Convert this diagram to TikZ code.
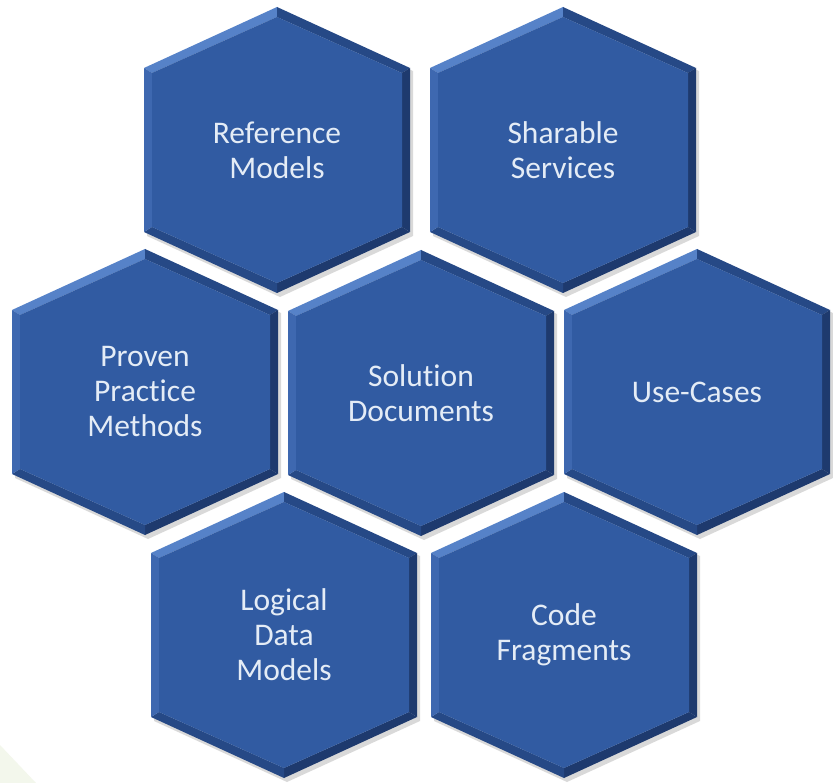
\documentclass[tikz,border=0pt]{standalone}
\usepackage{fontspec}
\setmainfont{Carlito}[Ligatures={NoCommon,NoContextual}, RawFeature={-dlig;-liga;-clig}]

\definecolor{hexbase}{RGB}{49,91,162}
\definecolor{hexlight}{RGB}{86,130,200}
\definecolor{hexmid}{RGB}{62,104,176}
\definecolor{hexdark}{RGB}{38,73,134}
\definecolor{hexdeep}{RGB}{30,58,110}
\definecolor{hextext}{RGB}{228,236,246}
\definecolor{cornergreen}{RGB}{243,247,236}

% one bevelled hexagon: name, x, y, text
\newcommand{\hexcell}[4]{%
  \begin{scope}[shift={(#2,#3)}]
    \fill[black,opacity=.15] (3,-140) -- (136,-79) -- (136,86) -- (3,147) -- (-130,86) -- (-130,-79) -- cycle;
    \fill[hexlight] (-133,-82) -- (0,-143) -- (0,-133) -- (-125,-77) -- cycle;
    \fill[hexdark]  (0,-143) -- (133,-82) -- (125,-77) -- (0,-133) -- cycle;
    \fill[hexdeep]  (133,-82) -- (133,82) -- (125,77) -- (125,-77) -- cycle;
    \fill[hexdeep]  (133,82) -- (0,143) -- (0,133) -- (125,77) -- cycle;
    \fill[hexdark]  (0,143) -- (-133,82) -- (-125,77) -- (0,133) -- cycle;
    \fill[hexmid]   (-133,82) -- (-133,-82) -- (-125,-77) -- (-125,77) -- cycle;
    \fill[hexbase]  (0,-133) -- (125,-77) -- (125,77) -- (0,133) -- (-125,77) -- (-125,-77) -- cycle;
    \node[hexlabel] (#1) at (0,0) {#4};
  \end{scope}
}

\begin{document}
\begin{tikzpicture}[x=1pt, y=-1pt,
  hexlabel/.style={text=hextext, align=center, font=\fontsize{31.5}{35}\selectfont}]

\useasboundingbox[fill=white] (0,0) rectangle (833,783);
\fill[cornergreen] (0,745) -- (36,783) -- (0,783) -- cycle;

% top row
\hexcell{refmodels}{277}{150}{Reference\\Models}
\hexcell{sharable}{563}{150}{Sharable\\Services}

% middle row
\hexcell{proven}{145}{392}{Proven\\Practice\\Methods}
\hexcell{solution}{421}{393}{Solution\\Documents}
\hexcell{usecases}{697}{392}{Use-Cases}

% bottom row
\hexcell{logical}{284}{635}{Logical\\Data\\Models}
\hexcell{codefrag}{564}{635}{Code\\Fragments}

\end{tikzpicture}
\end{document}
